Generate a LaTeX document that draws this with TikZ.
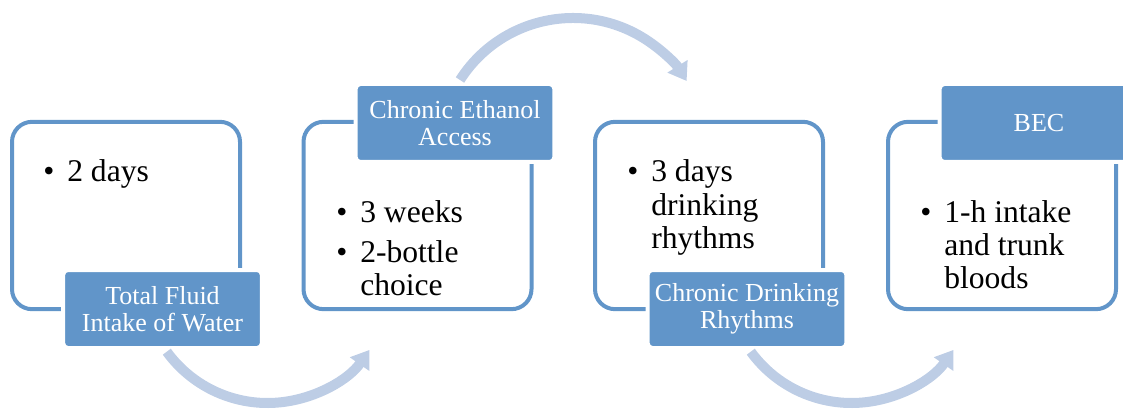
\documentclass[tikz,border=0pt]{standalone}
\usepackage{fontspec}
\setmainfont{Liberation Serif}
\usetikzlibrary{arrows.meta,calc,positioning}
\definecolor{stageblue}{HTML}{6195C9}
\definecolor{arcblue}{HTML}{BDCDE5}
\tikzset{stagebox/.style={draw=stageblue,line width=3pt,rounded corners=15pt,minimum width=171pt,minimum height=140.5pt,outer sep=0pt}}
\tikzset{labelbox/.style={fill=stageblue,draw=white,line width=3pt,rounded corners=3.5pt,minimum width=149pt,minimum height=58.5pt,inner sep=0pt,text=white,align=center,font=\fontsize{19.5}{20}\selectfont}}
\tikzset{itemtext/.style={anchor=base west,inner sep=0pt,font=\fontsize{23.7}{25}\selectfont}}
\tikzset{flowarc/.style={draw=arcblue,line width=7.5pt,-{Triangle[width=17pt,length=13pt]}}}
\newcommand{\bul}{\makebox[18pt][l]{\textbullet}}

\begin{document}
\begin{tikzpicture}[x=0.75pt,y=0.75pt]
\clip (0,0) rectangle (1123,411);

% stage frames
\node[stagebox] (b1) at (126,195.5) {};
\node[stagebox] (b2) at (417.5,195.5) {};
\node[stagebox] (b3) at (709,195.5) {};
\node[stagebox] (b4) at (1002,195.5) {};

% stage names
\node[labelbox] (l1) at (162.5,102) {Total Fluid\\Intake of Water};
\node[labelbox] (l2) at (455,288) {Chronic Ethanol\\Access};
\node[labelbox] (l3) at (747,102) {Chronic Drinking\\Rhythms};
\node[labelbox] (l4) at (1039,288) {BEC};

% bullet points
\node[itemtext] (t1) at (43,229) {\begin{tabular}[t]{@{}l@{}l@{}}\bul & 2 days\end{tabular}};
\node[itemtext] (t2) at (336,189) {\begin{tabular}[t]{@{}l@{}l@{}}\bul & 3 weeks\\[5pt] \bul & 2-bottle\\ & choice\end{tabular}};
\node[itemtext] (t3) at (627,229) {\begin{tabular}[t]{@{}l@{}l@{}}\bul & 3 days\\ & drinking\\ & rhythms\end{tabular}};
\node[itemtext] (t4) at (920,189) {\begin{tabular}[t]{@{}l@{}l@{}}\bul & 1-h intake\\ & and trunk\\ & bloods\end{tabular}};

% arrows between stages
\coordinate (c1) at (267.5,132.5);
\coordinate (c2) at (573,259);
\coordinate (c3) at (851.5,132.5);
\draw[flowarc] ($(c1)+(216:124.5)$) arc[start angle=216,end angle=325,radius=124.5];
\draw[flowarc] ($(c2)+(147.5:134)$) arc[start angle=147.5,end angle=32,radius=134];
\draw[flowarc] ($(c3)+(216:124.5)$) arc[start angle=216,end angle=325,radius=124.5];
\end{tikzpicture}
\end{document}
